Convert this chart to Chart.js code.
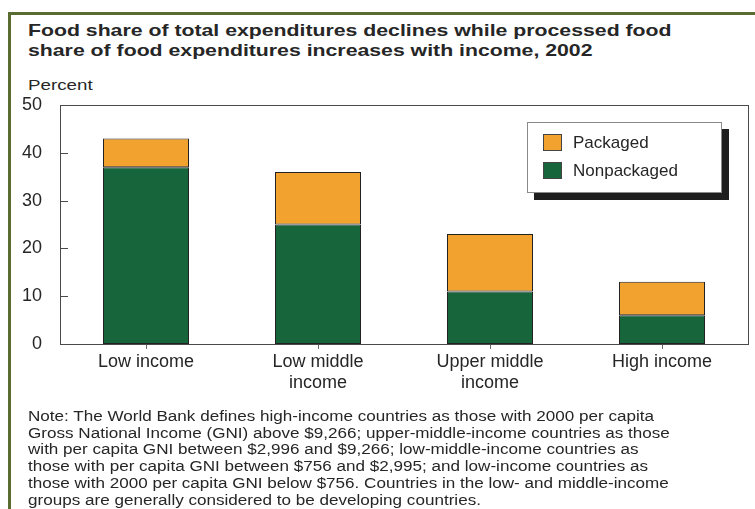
<!DOCTYPE html>
<html>
<head>
<meta charset="utf-8">
<script src="https://cdn.jsdelivr.net/npm/chart.js@4"></script>
<style>
  body { margin: 0; background: #fff; font-family: "Liberation Sans", Arial, sans-serif; color: #262626; }
  #wrap { position: relative; width: 755px; height: 509px; overflow: hidden; }
  #frameTop { position: absolute; left: 8px; top: 12px; width: 747px; height: 3px; background: #5a6c31; }
  #frameLeft { position: absolute; left: 8px; top: 12px; width: 3px; height: 497px; background: #5a6c31; }
  /* the source picture is stretched sideways, so the html text is too */
  #title { position: absolute; left: 28px; top: 21px; font-weight: bold; font-size: 17px; line-height: 20px; white-space: nowrap; transform: scaleX(1.25); transform-origin: 0 0; }
  #ylab { position: absolute; left: 28px; top: 76px; font-size: 15px; line-height: 17px; transform: scaleX(1.25); transform-origin: 0 0; }
  #note { position: absolute; left: 28px; top: 408px; font-size: 14px; line-height: 16.7px; white-space: nowrap; transform: scaleX(1.22); transform-origin: 0 0; }
  canvas { position: absolute; left: 0; top: 0; }
  #legend { position: absolute; left: 527px; top: 122px; width: 193px; height: 69px; border: 1px solid #8a8a8a; background: #fff; box-shadow: 7px 7px 0 #1e1e1e; }
  #legend ul { list-style: none; margin: 0; padding: 0; }
  #legend li { position: absolute; left: 15px; height: 20px; font-size: 17px; line-height: 20px; }
  #legend .box { position: absolute; left: 0; top: 1px; width: 19px; height: 17px; border: 1px solid #444; box-sizing: border-box; }
  #legend .lbl { position: absolute; left: 30px; top: 0; white-space: nowrap; }
</style>
</head>
<body>
<div id="wrap">
  <div id="frameTop"></div>
  <div id="frameLeft"></div>
  <div id="title">Food share of total expenditures declines while processed food<br>share of food expenditures increases with income, 2002</div>
  <div id="ylab">Percent</div>
  <canvas id="chart" width="755" height="509"></canvas>
  <div id="legend"><ul id="legendList"></ul></div>
  <div id="note">Note: The World Bank defines high-income countries as those with 2000 per capita<br>Gross National Income (GNI) above $9,266; upper-middle-income countries as those<br>with per capita GNI between $2,996 and $9,266; low-middle-income countries as<br>those with per capita GNI between $756 and $2,995; and low-income countries as<br>those with 2000 per capita GNI below $756. Countries in the low- and middle-income<br>groups are generally considered to be developing countries.</div>
</div>
<script>
const categories = [["Low income"], ["Low middle", "income"], ["Upper middle", "income"], ["High income"]];
const nonpackaged = [37, 25, 11, 6];
const packaged = [6, 11, 12, 7];
const yTicks = [0, 10, 20, 30, 40, 50];

// plot box and inward y ticks
const plotFrame = {
  id: "plotFrame",
  afterDraw(chart) {
    const { ctx, chartArea: a, scales } = chart;
    ctx.save();
    ctx.strokeStyle = "#4a4a4a";
    ctx.lineWidth = 1;
    ctx.strokeRect(Math.round(a.left) + 0.5, Math.round(a.top) + 0.5, Math.round(a.right - a.left), Math.round(a.bottom - a.top));
    ctx.beginPath();
    yTicks.forEach((v) => {
      const y = Math.round(scales.y.getPixelForValue(v)) + 0.5;
      ctx.moveTo(a.left, y);
      ctx.lineTo(a.left + 8, y);
    });
    ctx.stroke();
    ctx.restore();
  },
};

const chart = new Chart(document.getElementById("chart"), {
  type: "bar",
  data: {
    labels: categories,
    datasets: [
      { label: "Nonpackaged", data: nonpackaged, backgroundColor: "#17653a", borderColor: "#222", borderWidth: 1, borderSkipped: false },
      { label: "Packaged", data: packaged, backgroundColor: "#f2a22e", borderColor: "#222", borderWidth: 1, borderSkipped: false },
    ],
  },
  options: {
    responsive: false,
    animation: false,
    devicePixelRatio: 1,
    layout: { padding: { top: 105, right: 7, left: 0, bottom: 0 } },
    datasets: { bar: { categoryPercentage: 1, barPercentage: 0.5 } },
    scales: {
      x: {
        stacked: true,
        afterFit: (s) => { s.height = 165; },
        grid: { display: true, offset: false, drawOnChartArea: false, drawTicks: true, tickLength: 5, color: "#6a6a6a" },
        border: { display: false },
        ticks: { color: "#262626", font: { family: "'Liberation Sans', Arial", size: 18 }, padding: 2, maxRotation: 0, autoSkip: false },
      },
      y: {
        stacked: true,
        min: 0,
        max: 50,
        afterFit: (s) => { s.width = 60; },
        afterBuildTicks: (s) => { s.ticks = yTicks.map((v) => ({ value: v })); },
        grid: { display: false },
        border: { display: false },
        ticks: { color: "#262626", font: { family: "'Liberation Sans', Arial", size: 18 }, padding: 10 },
      },
    },
    plugins: {
      legend: { display: false },
      tooltip: { enabled: false },
    },
  },
  plugins: [plotFrame],
});

// html legend, packaged first as in the original
const list = document.getElementById("legendList");
chart.legend.legendItems.slice().reverse().forEach((item, i) => {
  const li = document.createElement("li");
  li.style.top = (i === 0 ? 10 : 38) + "px";
  li.innerHTML = '<span class="box" style="background:' + item.fillStyle + '"></span><span class="lbl">' + item.text + "</span>";
  list.appendChild(li);
});
</script>
</body>
</html>
